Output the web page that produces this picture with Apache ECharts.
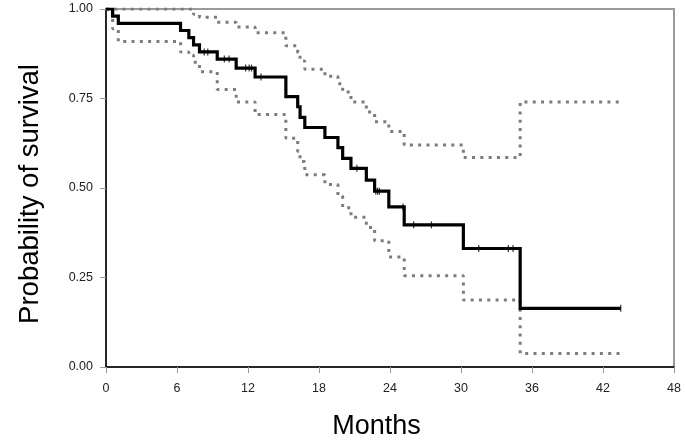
<!DOCTYPE html>
<html>
<head>
<meta charset="utf-8">
<script src="https://cdn.jsdelivr.net/npm/echarts@6/dist/echarts.min.js"></script>
<style>
html,body{margin:0;padding:0;background:#fff;}
#chart{width:685px;height:445px;}
</style>
</head>
<body>
<div id="chart"></div>
<script>
var eventTimes = [0,0.56,1.04,6.3,7.0,7.4,7.9,9.4,11.0,12.6,15.2,16.2,16.4,16.8,18.5,19.6,20.0,20.7,22.0,22.7,23.9,25.2,30.2,35.0,43.5];
var survival   = [1,0.98,0.96,0.94,0.92,0.90,0.88,0.86,0.835,0.81,0.755,0.727,0.697,0.669,0.641,0.613,0.583,0.555,0.522,0.491,0.447,0.397,0.331,0.164,0.164];
var upperCI    = [1,1,1,1,1,0.985,0.977,0.963,0.950,0.934,0.897,0.878,0.855,0.832,0.812,0.791,0.768,0.740,0.712,0.685,0.658,0.620,0.585,0.740,0.740];
var lowerCI    = [1,0.945,0.909,0.880,0.871,0.851,0.825,0.775,0.740,0.705,0.639,0.602,0.574,0.537,0.510,0.478,0.445,0.418,0.390,0.353,0.307,0.255,0.187,0.038,0.038];
var censorTimes = [8.3,8.6,10.0,10.4,11.8,12.1,12.3,13.1,21.2,22.8,22.95,23.1,25.1,26.0,27.5,31.5,34.0,34.4,43.5];
var xTicks = [0,6,12,18,24,30,36,42,48];
var yTicks = [0,0.25,0.5,0.75,1];

function pairs(xs, ys){ return xs.map(function(x,i){ return [x, ys[i]]; }); }
function survAt(t){
  var v = survival[0];
  for (var i = 0; i < eventTimes.length; i++){ if (eventTimes[i] <= t) v = survival[i]; }
  return v;
}
var censorData = censorTimes.map(function(t){ return [t, survAt(t)]; });

var chart = echarts.init(document.getElementById('chart'));
var dotted = {color:'#7c7c7c', width:3, type:[3,5.3], cap:'butt'};
chart.setOption({
  animation:false,
  backgroundColor:'#fff',
  grid:{left:106, right:11, top:9, bottom:74, show:true, borderColor:'#9a9a9a', borderWidth:2},
  xAxis:{
    type:'value', min:xTicks[0], max:xTicks[xTicks.length-1], interval:6,
    name:'Months', nameLocation:'middle', nameGap:46,
    nameTextStyle:{fontFamily:'Liberation Sans, Arial, sans-serif', fontSize:27, color:'#000', padding:[0,27,0,0]},
    axisLine:{show:true, onZero:false, lineStyle:{color:'#000', width:1.5}},
    axisTick:{show:true, length:6, lineStyle:{color:'#999', width:1}},
    axisLabel:{margin:15, fontFamily:'Liberation Sans, Arial, sans-serif', fontSize:12.5, color:'#222'},
    splitLine:{show:false}
  },
  yAxis:{
    type:'value', min:yTicks[0], max:yTicks[yTicks.length-1], interval:0.25,
    name:'Probability of survival', nameLocation:'middle', nameGap:62,
    nameTextStyle:{fontFamily:'Liberation Sans, Arial, sans-serif', fontSize:27.5, color:'#000', padding:[0,12,0,0]},
    axisLine:{show:true, onZero:false, lineStyle:{color:'#000', width:1.5}},
    axisTick:{show:true, length:6, lineStyle:{color:'#999', width:1}},
    axisLabel:{margin:13, fontFamily:'Liberation Sans, Arial, sans-serif', fontSize:12.5, color:'#222',
      formatter:function(v){ return v.toFixed(2); }},
    splitLine:{show:false}
  },
  series:[
    {type:'line', step:'end', data:pairs(eventTimes, upperCI), showSymbol:false, lineStyle:dotted, z:2},
    {type:'line', step:'end', data:pairs(eventTimes, lowerCI), showSymbol:false, lineStyle:dotted, z:2},
    {type:'line', step:'end', data:pairs(eventTimes, survival), showSymbol:false,
      lineStyle:{color:'#000', width:3.2, cap:'butt', join:'miter'}, z:3},
    {type:'scatter', data:censorData, symbol:'rect', symbolSize:[1.2,7], itemStyle:{color:'#000'}, z:4}
  ]
});
</script>
</body>
</html>
